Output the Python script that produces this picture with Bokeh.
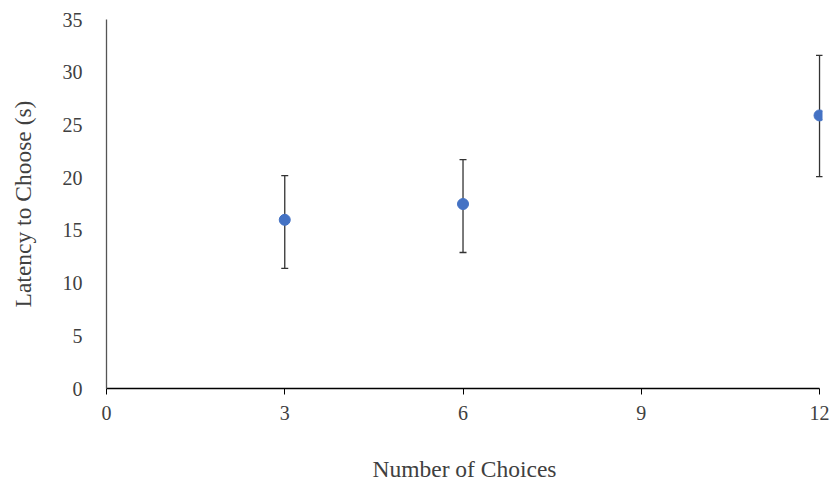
from bokeh.plotting import figure
from bokeh.models import ColumnDataSource, Whisker, Range1d, FixedTicker
from bokeh.embed import file_html
from bokeh.resources import INLINE

choices = [3, 6, 12]
latency = [16.0, 17.5, 25.9]
err_low = [11.4, 12.9, 20.1]
err_high = [20.2, 21.7, 31.6]
x_ticks = [0, 3, 6, 9, 12]
y_ticks = [0, 5, 10, 15, 20, 25, 30, 35]

src = ColumnDataSource(dict(x=choices, y=latency, lo=err_low, hi=err_high))

p = figure(width=833, height=484, output_backend="svg", toolbar_location=None,
           x_range=Range1d(0, 12.05), y_range=Range1d(0, 35))
p.min_border_left = 106
p.min_border_right = 11
p.min_border_top = 19
p.min_border_bottom = 95
p.outline_line_color = None
p.xgrid.visible = False
p.ygrid.visible = False

w = Whisker(source=src, base="x", lower="lo", upper="hi",
            line_color="#333333", line_width=1.3)
w.upper_head.size = 7
w.lower_head.size = 7
w.upper_head.line_color = "#333333"
w.lower_head.line_color = "#333333"
w.upper_head.line_width = 1.3
w.lower_head.line_width = 1.3
p.add_layout(w)

p.scatter("x", "y", source=src, size=11, fill_color="#4472C4", line_color="#4472C4")

font = "Liberation Serif"
p.xaxis.ticker = FixedTicker(ticks=x_ticks)
p.xaxis.bounds = (0, 12)
p.xaxis.axis_line_color = "black"
p.xaxis.axis_line_width = 1.3
p.xaxis.major_tick_line_color = "black"
p.xaxis.major_tick_in = 0
p.xaxis.major_tick_out = 6
p.xaxis.minor_tick_line_color = None
p.xaxis.major_label_text_font = font
p.xaxis.major_label_text_font_size = "20px"
p.xaxis.major_label_text_color = "#404040"
p.xaxis.major_label_standoff = 11
p.xaxis.axis_label = "Number of Choices"
p.xaxis.axis_label_text_font = font
p.xaxis.axis_label_text_font_size = "23.5px"
p.xaxis.axis_label_text_font_style = "normal"
p.xaxis.axis_label_text_color = "#404040"
p.xaxis.axis_label_standoff = 33

p.yaxis.ticker = FixedTicker(ticks=y_ticks)
p.yaxis.axis_line_color = "#555555"
p.yaxis.axis_line_width = 1.3
p.yaxis.major_tick_line_color = None
p.yaxis.minor_tick_line_color = None
p.yaxis.major_label_text_font = font
p.yaxis.major_label_text_font_size = "20px"
p.yaxis.major_label_text_color = "#404040"
p.yaxis.major_label_standoff = 18
p.yaxis.axis_label = "Latency to Choose (s)"
p.yaxis.axis_label_text_font = font
p.yaxis.axis_label_text_font_size = "23.5px"
p.yaxis.axis_label_text_font_style = "normal"
p.yaxis.axis_label_text_color = "#404040"
p.yaxis.axis_label_standoff = 24

open("out.html", "w").write(file_html(p, INLINE))
